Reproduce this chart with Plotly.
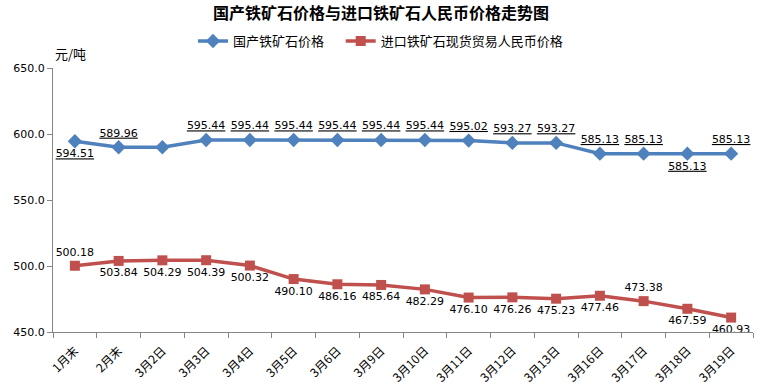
import plotly.graph_objects as go

categories = ["1月末", "2月末", "3月2日", "3月3日", "3月4日", "3月5日", "3月6日", "3月9日",
              "3月10日", "3月11日", "3月12日", "3月13日", "3月16日", "3月17日", "3月18日", "3月19日"]
domestic = [594.51, 589.96, 589.96, 595.44, 595.44, 595.44, 595.44, 595.44,
            595.44, 595.02, 593.27, 593.27, 585.13, 585.13, 585.13, 585.13]
domestic_labels = ["594.51", "589.96", "", "595.44", "595.44", "595.44", "595.44", "595.44",
                   "595.44", "595.02", "593.27", "593.27", "585.13", "585.13", "585.13", "585.13"]
imported = [500.18, 503.84, 504.29, 504.39, 500.32, 490.10, 486.16, 485.64,
            482.29, 476.10, 476.26, 475.23, 477.46, 473.38, 467.59, 460.93]
y_ticks = [450, 500, 550, 600, 650]

blue = "#4F81BD"
red = "#C0504D"
num_font = "DejaVu Sans"
cjk = "Noto Sans CJK SC"

dom_pos = ["bottom center"] + ["top center"] * 13 + ["bottom center", "top center"]
imp_pos = ["top center"] + ["bottom center"] * 12 + ["top center", "bottom center", "bottom center"]

fig = go.Figure()
fig.add_trace(go.Scatter(
    x=categories, y=domestic, mode="lines+markers+text", name="国产铁矿石价格",
    line=dict(color=blue, width=3.5),
    marker=dict(symbol="diamond", size=11, color=blue),
    text=[f"<u>{t}</u>" if t else "" for t in domestic_labels],
    textposition=dom_pos,
    textfont=dict(family=num_font, size=11, color="#000000"),
    cliponaxis=False, legend="legend",
))
fig.add_trace(go.Scatter(
    x=categories, y=imported, mode="lines+markers+text", name="进口铁矿石现货贸易人民币价格",
    line=dict(color=red, width=3.5),
    marker=dict(symbol="square", size=10, color=red),
    text=[f"{v:.2f}" for v in imported],
    textposition=imp_pos,
    textfont=dict(family=num_font, size=11, color="#000000"),
    cliponaxis=False, legend="legend2",
))

legend_style = dict(orientation="h", xanchor="left", y=1.102, yanchor="middle",
                    font=dict(family=cjk, size=13, color="#000000"),
                    bgcolor="rgba(0,0,0,0)")

fig.update_layout(
    width=762, height=392,
    margin=dict(l=53, r=9, t=68, b=60, autoexpand=False),
    paper_bgcolor="white", plot_bgcolor="white",
    title=dict(text="<b>国产铁矿石价格与进口铁矿石人民币价格走势图</b>",
               x=0.5, xanchor="center", y=0.965, yanchor="middle",
               font=dict(family=cjk, size=16, color="#000000")),
    showlegend=True,
    legend=dict(x=0.2, **legend_style),
    legend2=dict(x=0.411, **legend_style),
    annotations=[dict(text="元/吨", xref="paper", yref="paper", x=0, y=1.055,
                      xanchor="left", yanchor="middle", showarrow=False,
                      font=dict(family=cjk, size=13, color="#000000"))],
)
fig.update_xaxes(
    type="category", range=[-0.5, len(categories) - 0.5],
    showgrid=False, showline=True, linecolor="#868686", linewidth=1,
    ticks="outside", tickson="boundaries", ticklen=5, tickcolor="#868686",
    tickangle=-45, ticklabelstandoff=6, tickfont=dict(family=cjk, size=12, color="#000000"),
)
fig.update_yaxes(
    range=[450, 650], tickvals=y_ticks, ticktext=[f"{v:.1f}" for v in y_ticks],
    showgrid=False, showline=True, linecolor="#868686", linewidth=1,
    ticks="outside", ticklen=5, tickcolor="#868686", zeroline=False,
    tickfont=dict(family=num_font, size=11, color="#000000"),
)

fig.write_html("out.html", post_script="document.body.style.margin='0';",
               config={"displayModeBar": False})
